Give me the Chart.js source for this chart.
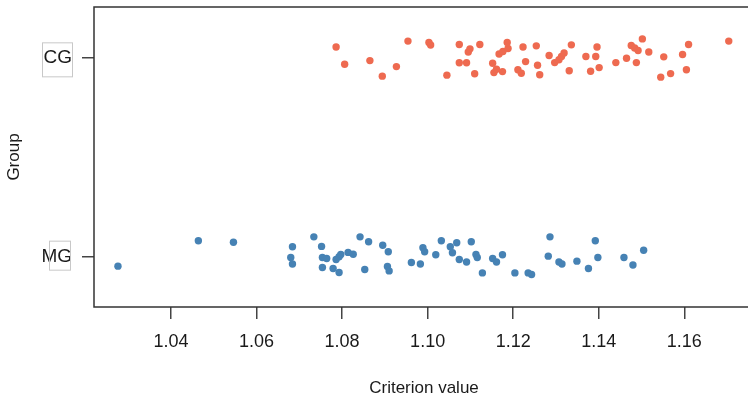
<!DOCTYPE html>
<html>
<head>
<meta charset="utf-8">
<script src="https://cdn.jsdelivr.net/npm/chart.js@4/dist/chart.umd.min.js"></script>
<style>
  html, body { margin: 0; padding: 0; background: #fff; overflow: hidden; }
  #wrap { width: 760px; height: 399px; }
</style>
</head>
<body>
<div id="wrap"><canvas id="stripChart" width="760" height="399"></canvas></div>
<script>
// groups on the y axis (1 = MG, 2 = CG)
const groups = ['MG', 'CG'];
const xTicks = [1.04, 1.06, 1.08, 1.10, 1.12, 1.14, 1.16];

// CG criterion values and their vertical jitter
const cgValues = [1.0786, 1.0806, 1.0865, 1.0894, 1.0927, 1.0954, 1.1003, 1.1007, 1.1045, 1.1074,
  1.1074, 1.1091, 1.1095, 1.1099, 1.1110, 1.1122, 1.1152, 1.1155, 1.1161, 1.1175,
  1.1167, 1.1176, 1.1188, 1.1186, 1.1211, 1.1219, 1.1223, 1.1254, 1.1229, 1.1257,
  1.1262, 1.1284, 1.1297, 1.1307, 1.1313, 1.1319, 1.1336, 1.1331, 1.1370, 1.1393,
  1.1396, 1.1381, 1.1401, 1.1440, 1.1465, 1.1476, 1.1484, 1.1492, 1.1502, 1.1488,
  1.1517, 1.1552, 1.1545, 1.1568, 1.1596, 1.1610, 1.1605, 1.1704];
const cgJitter = [0.054, -0.032, -0.014, -0.092, -0.044, 0.084, 0.077, 0.064, -0.087, 0.067,
  -0.025, -0.025, 0.029, 0.045, -0.080, 0.067, -0.027, -0.074, -0.057, -0.069,
  0.019, 0.032, 0.047, 0.077, -0.060, -0.077, 0.054, 0.060, -0.019, -0.037,
  -0.085, 0.012, -0.024, -0.010, 0.007, 0.024, 0.065, -0.065, 0.007, 0.007,
  0.054, -0.067, -0.049, -0.024, -0.002, 0.062, 0.049, 0.037, 0.095, -0.024,
  0.029, 0.005, -0.097, -0.079, 0.017, 0.067, -0.060, 0.084];

// MG criterion values and their vertical jitter
const mgValues = [1.0276, 1.0464, 1.0546, 1.0684, 1.0680, 1.0684, 1.0734, 1.0752, 1.0754, 1.0764,
  1.0754, 1.0779, 1.0793, 1.0786, 1.0793, 1.0797, 1.0814, 1.0826, 1.0842, 1.0862,
  1.0853, 1.0895, 1.0908, 1.0906, 1.0910, 1.0962, 1.0983, 1.0989, 1.0993, 1.1019,
  1.1032, 1.1053, 1.1058, 1.1068, 1.1074, 1.1091, 1.1102, 1.1113, 1.1116, 1.1128,
  1.1152, 1.1161, 1.1175, 1.1204, 1.1235, 1.1243, 1.1286, 1.1282, 1.1307, 1.1314,
  1.1349, 1.1376, 1.1392, 1.1398, 1.1459, 1.1480, 1.1505];
const mgJitter = [-0.045, 0.082, 0.075, 0.052, -0.002, -0.034, 0.102, 0.054, -0.002, -0.007,
  -0.052, -0.057, -0.077, -0.012, 0.002, 0.014, 0.024, 0.015, 0.102, 0.077,
  -0.062, 0.060, 0.027, -0.047, -0.069, -0.027, -0.034, 0.047, 0.027, 0.012,
  0.082, 0.052, 0.022, 0.072, -0.012, -0.024, 0.077, 0.014, -0.002, -0.079,
  -0.007, -0.024, 0.012, -0.079, -0.079, -0.087, 0.102, 0.005, -0.024, -0.034,
  -0.020, -0.057, 0.082, -0.002, -0.002, -0.039, 0.035];

const toPoints = (vals, jit, g) => vals.map((v, i) => ({ x: v, y: g + jit[i] }));

// box round the plot region (right side runs off the picture) and the boxed group labels
const boxPlugin = {
  id: 'boxPlugin',
  afterDraw(chart) {
    const { ctx, chartArea } = chart;
    const yScale = chart.scales.y;
    ctx.save();
    ctx.strokeStyle = '#333';
    ctx.lineWidth = 1.5;
    ctx.beginPath();
    ctx.moveTo(chart.width, chartArea.top);
    ctx.lineTo(chartArea.left, chartArea.top);
    ctx.lineTo(chartArea.left, chartArea.bottom);
    ctx.lineTo(chart.width, chartArea.bottom);
    ctx.stroke();
    ctx.strokeStyle = '#c8c8c8';
    ctx.lineWidth = 1;
    const yCG = yScale.getPixelForValue(2);
    const yMG = yScale.getPixelForValue(1);
    ctx.strokeRect(42.5, yCG - 15, 30, 34);
    ctx.strokeRect(49.5, yMG - 16, 21, 29);
    ctx.restore();
  }
};

const ctx = document.getElementById('stripChart').getContext('2d');
new Chart(ctx, {
  type: 'scatter',
  data: {
    datasets: [
      {
        label: 'CG',
        data: toPoints(cgValues, cgJitter, 2),
        backgroundColor: '#EE6A50',
        pointRadius: 3.7,
        borderWidth: 0
      },
      {
        label: 'MG',
        data: toPoints(mgValues, mgJitter, 1),
        backgroundColor: '#4682B4',
        pointRadius: 3.7,
        borderWidth: 0
      }
    ]
  },
  options: {
    responsive: false,
    animation: false,
    devicePixelRatio: 1,
    layout: { padding: { left: 0, right: 6, top: 7, bottom: 0 } },
    plugins: { legend: { display: false }, tooltip: { enabled: false } },
    scales: {
      x: {
        type: 'linear',
        min: 1.022,
        max: 1.1763,
        afterBuildTicks: s => { s.ticks = xTicks.map(v => ({ value: v })); },
        afterFit: s => { s.height = 92; s.paddingLeft = 0; s.paddingRight = 0; },
        border: { display: false },
        grid: { drawOnChartArea: false, tickLength: 12, color: '#444', lineWidth: 1.5 },
        ticks: {
          color: '#1a1a1a',
          font: { family: 'Liberation Sans, Arial', size: 18 },
          padding: 12,
          maxRotation: 0,
          callback: v => v.toFixed(2)
        },
        title: {
          display: true,
          text: 'Criterion value',
          color: '#1a1a1a',
          font: { family: 'Liberation Sans, Arial', size: 17 },
          padding: { top: 0, bottom: 0 }
        }
      },
      y: {
        type: 'linear',
        min: 0.75,
        max: 2.255,
        afterBuildTicks: s => { s.ticks = [1, 2].map(v => ({ value: v })); },
        afterFit: s => { s.width = 94; s.paddingTop = 0; s.paddingBottom = 0; },
        border: { display: false },
        grid: { drawOnChartArea: false, tickLength: 12, color: '#444', lineWidth: 1.5 },
        ticks: {
          color: '#1a1a1a',
          font: { family: 'Liberation Sans, Arial', size: 19 },
          padding: 10,
          callback: v => groups[v - 1]
        },
        title: {
          display: true,
          text: 'Group',
          color: '#1a1a1a',
          font: { family: 'Liberation Sans, Arial', size: 17 },
          padding: { top: 4, bottom: 0 }
        }
      }
    }
  },
  plugins: [boxPlugin]
});
</script>
</body>
</html>
